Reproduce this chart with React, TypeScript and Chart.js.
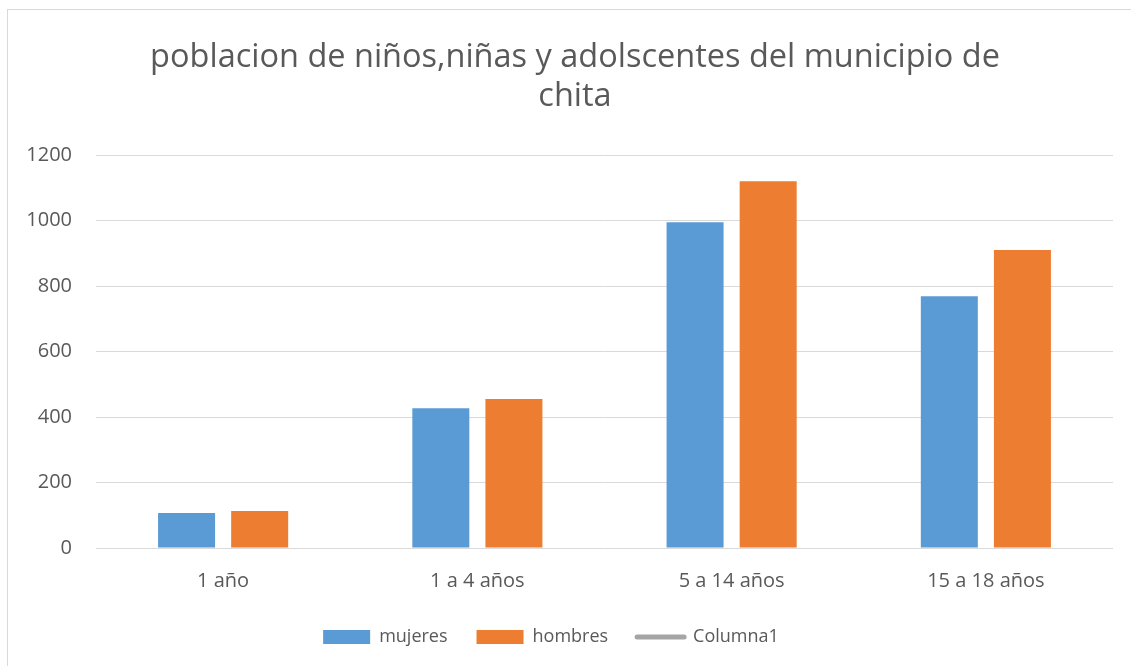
import React, { useEffect, useRef } from "react";
import { Chart, registerables } from "chart.js";

Chart.register(...registerables);

const categories = ["1 año", "1 a 4 años", "5 a 14 años", "15 a 18 años"];
const mujeres = [107, 427, 995, 769];
const hombres = [113, 455, 1120, 910];
const columna1: (number | null)[] = [null, null, null, null];
const titleLines = ["poblacion de niños,niñas y adolscentes del municipio de", "chita"];
const yTicks = [0, 200, 400, 600, 800, 1000, 1200];

const FONT = "'Open Sans', 'Liberation Sans', sans-serif";
const TEXT = "#595959";
const GRID = "#D9D9D9";

const shiftBoxes = {
  id: "shiftBoxes",
  afterLayout(chart: any) {
    const t = chart.titleBlock;
    if (t) {
      t.left += 5.5;
      t.right += 5.5;
    }
    const l = chart.legend;
    if (l) {
      l.left -= 18.5;
      l.right -= 18.5;
    }
  },
};

export default function App() {
  const ref = useRef<HTMLCanvasElement | null>(null);

  useEffect(() => {
    if (!ref.current) return;
    const chart = new Chart(ref.current, {
      type: "bar",
      data: {
        labels: categories,
        datasets: [
          {
            label: "mujeres",
            data: mujeres,
            backgroundColor: "#5B9BD5",
            categoryPercentage: 0.575,
            barPercentage: 0.78,
          },
          {
            label: "hombres",
            data: hombres,
            backgroundColor: "#ED7D31",
            categoryPercentage: 0.575,
            barPercentage: 0.78,
          },
          {
            type: "line",
            label: "Columna1",
            data: columna1,
            borderColor: "#A5A5A5",
            backgroundColor: "#A5A5A5",
            borderWidth: 5,
          } as any,
        ],
      },
      plugins: [shiftBoxes],
      options: {
        animation: false,
        responsive: false,
        layout: { padding: { left: 18, right: 18, top: 0, bottom: 10 } },
        plugins: {
          title: {
            display: true,
            text: titleLines,
            color: TEXT,
            font: { family: FONT, size: 32.5, weight: "normal", lineHeight: 1.2 },
            padding: { top: 28, bottom: 39 },
          },
          legend: {
            position: "bottom",
            labels: {
              usePointStyle: true,
              pointStyleWidth: 47,
              boxHeight: 14,
              padding: 29,
              color: TEXT,
              font: { family: FONT, size: 18 },
              generateLabels: (c: any) =>
                c.data.datasets.map((ds: any, i: number) => ({
                  text: ds.label,
                  fillStyle: ds.backgroundColor,
                  strokeStyle: ds.type === "line" ? ds.borderColor : ds.backgroundColor,
                  lineWidth: ds.type === "line" ? 5 : 0,
                  lineCap: "round",
                  pointStyle: ds.type === "line" ? "line" : "rect",
                  fontColor: TEXT,
                  hidden: false,
                  datasetIndex: i,
                })),
            },
          },
          tooltip: { enabled: false },
        },
        scales: {
          x: {
            grid: { display: false, drawTicks: false },
            border: { display: false },
            afterFit: (axis: any) => {
              axis.height -= 15;
            },
            ticks: { color: TEXT, font: { family: FONT, size: 20 }, padding: 21 },
          },
          y: {
            min: 0,
            max: 1200,
            afterBuildTicks: (axis: any) => {
              axis.ticks = yTicks.map((v) => ({ value: v }));
            },
            afterFit: (axis: any) => {
              axis.width = 70;
            },
            grid: { color: GRID, lineWidth: 1, drawTicks: false },
            border: { display: false },
            ticks: {
              color: TEXT,
              font: { family: FONT, size: 20 },
              padding: 24,
              callback: (v: any) => String(v),
            },
          },
        },
      },
    });
    return () => chart.destroy();
  }, []);

  return (
    <div
      style={{
        position: "absolute",
        left: 7,
        top: 9,
        width: 1130,
        height: 662,
        border: "1px solid #D9D9D9",
        background: "#fff",
        boxSizing: "content-box",
      }}
    >
      <canvas ref={ref} width={1123} height={656} style={{ display: "block" }} />
    </div>
  );
}
